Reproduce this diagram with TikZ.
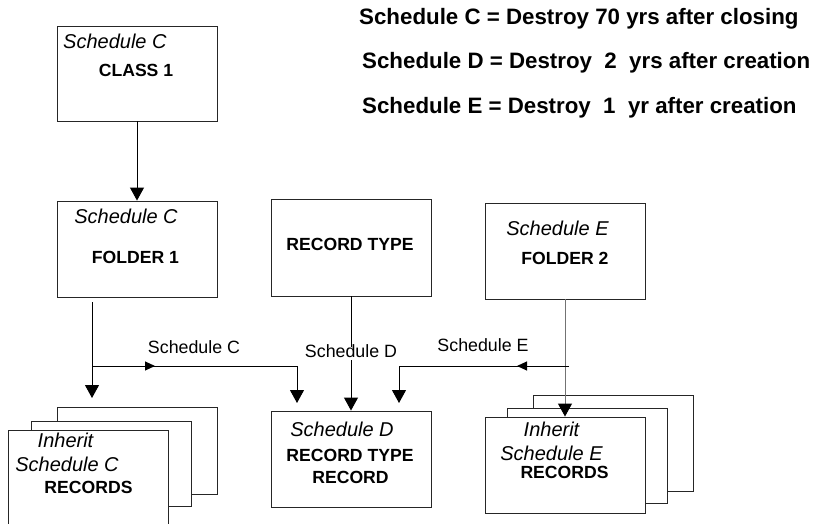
\documentclass[tikz,border=0pt]{standalone}
\usepackage{fontspec}
\setmainfont{Liberation Sans}
\usetikzlibrary{arrows.meta,decorations.markings}
\tikzset{
  box/.style={draw=black!85,line width=0.9pt,fill=white,inner sep=0pt},
  ital/.style={font=\fontsize{20}{24}\selectfont\itshape,inner sep=0pt,text height=.716em,text depth=0pt},
  bld/.style={font=\fontsize{17.6}{21}\selectfont\bfseries,inner sep=0pt,text height=.716em,text depth=0pt},
  lbl/.style={font=\fontsize{17.8}{21}\selectfont,inner sep=0pt,text height=.716em,text depth=0pt},
  legend/.style={font=\fontsize{22.3}{26}\selectfont\bfseries,inner sep=0pt,text height=.716em,text depth=0pt,anchor=west},
  conn/.style={draw=black,line width=1pt},
  tip/.style={conn,-{Triangle[width=14pt,length=13pt,color=black]}},
  midarrow/.style={postaction={decorate},decoration={markings,mark=at position #1 with {\arrow{Triangle[width=9pt,length=10pt]}}}}
}
\begin{document}
\begin{tikzpicture}[x=1pt,y=-1pt]
\useasboundingbox (0,0) rectangle (814,524);
% legend
\node[legend] (legC) at (359,21) {Schedule C = Destroy 70 yrs after closing};
\node[legend] (legD) at (362,65) {Schedule D = Destroy\ \ 2\ \ yrs after creation};
\node[legend] (legE) at (362,110) {Schedule E = Destroy\ \ 1\ \ yr after creation};
% boxes
\node[box,minimum width=160pt,minimum height=95pt] (class1) at (137,73.5) {};
\node[box,minimum width=160pt,minimum height=96pt] (folder1) at (137,249) {};
\node[box,minimum width=160pt,minimum height=97pt] (rectype) at (351,247.5) {};
\node[box,minimum width=160pt,minimum height=96pt] (folder2) at (565,251) {};
\node[box,minimum width=160pt,minimum height=96pt] (rtr) at (351,459) {};
% left stack
\node[box,minimum width=160pt,minimum height=87pt] (lrec3) at (137,450.5) {};
\node[box,minimum width=160pt,minimum height=85pt] (lrec2) at (111,463.5) {};
\node[box,minimum width=160pt,minimum height=100pt] (lrec1) at (88,480) {};
% right stack
\node[box,minimum width=160pt,minimum height=96pt] (rrec3) at (613,443) {};
\node[box,minimum width=160pt,minimum height=95pt] (rrec2) at (587,455.5) {};
\node[box,minimum width=160pt,minimum height=96pt] (rrec1) at (565,465) {};
% texts
\node[ital,anchor=west] (t1) at (63,45) {Schedule C};
\node[bld] (t2) at (136,73) {CLASS 1};
\node[ital] (t3) at (126,220) {Schedule C};
\node[bld] (t4) at (135.5,260) {FOLDER 1};
\node[bld] (t5) at (350,247) {RECORD TYPE};
\node[ital] (t6) at (557.5,232) {Schedule E};
\node[bld] (t7) at (565,261) {FOLDER 2};
\node[ital] (t8) at (342,433) {Schedule D};
\node[bld] (t9) at (350,458) {RECORD TYPE};
\node[bld] (t10) at (350.5,480) {RECORD};
\node[ital] (t11) at (65.5,444) {Inherit};
\node[ital] (t12) at (67,468) {Schedule C};
\node[bld] (t13) at (88.5,490) {RECORDS};
\node[ital] (t14) at (551.5,433) {Inherit};
\node[ital] (t15) at (551.5,457) {Schedule E};
\node[bld] (t16) at (564.5,475) {RECORDS};
% coordinates
\coordinate (f1out) at (92,302);
\coordinate (lj) at (92,366);
\coordinate (ltip) at (92,398);
\coordinate (ctipL) at (297,403);
\coordinate (rj) at (569,366);
\coordinate (ctipR) at (399,403);
% connectors
\draw[tip] (class1.south) -- (folder1.north);
\draw[conn] (f1out) -- (lj);
\draw[tip] (lj) -- (ltip);
\draw[tip,midarrow=63pt] (lj) -| (ctipL);
\node[lbl] (lC) at (194,350) {Schedule C};
\draw[tip] (rectype.south) -- node[lbl,fill=white,inner ysep=3pt] (lD) {Schedule D} (rtr.north);
\draw[tip,draw=black!55] (folder2.south) -- (rrec1.north);
\draw[tip,midarrow=52pt] (rj) -| (ctipR);
\node[lbl] (lE) at (483,348) {Schedule E};
\end{tikzpicture}
\end{document}
